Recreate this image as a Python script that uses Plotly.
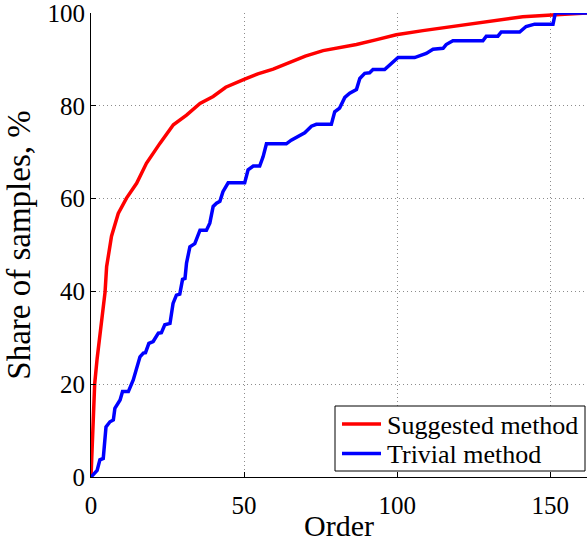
import plotly.graph_objects as go

# Suggested method (red) — cumulative share of samples, %
suggested_order = [0, 0.3, 0.77, 1.2, 2.0, 2.9, 4.0, 4.6, 5.1, 6.7, 8.9, 11.6, 14.9, 18.1, 22.5,
                   26.9, 31.2, 35.6, 39.9, 44.0, 50.0, 54.5, 59.5, 65.0, 70.0, 75.8, 81.0, 86.7, 93.0, 99.7,
                   108.4, 119.3, 130.2, 141.0, 151.9, 162.0]
suggested_share = [0, 5.0, 12.3, 20.0, 25.5, 30.2, 36.5, 39.9, 45.3, 51.9, 56.8, 60.1, 63.3, 67.6, 71.9,
                   75.9, 78.0, 80.5, 82.0, 84.0, 85.7, 86.9, 87.9, 89.4, 90.7, 91.9, 92.5, 93.2, 94.2, 95.3,
                   96.2, 97.2, 98.2, 99.2, 99.6, 100.0]

# Trivial method (blue)
trivial_order = [0, 1.3, 2.0, 2.9, 4.0, 4.9, 6.2, 7.3, 7.8, 9.5, 10.3, 12.2, 13.8, 16.0, 17.1, 17.8,
                 18.9, 20.3, 22.0, 23.0, 24.1, 25.8, 26.8, 27.9, 29.0, 29.9, 30.7, 31.2, 32.3, 33.9,
                 35.6, 37.7, 38.8, 39.9, 41.0, 42.1, 43.1, 44.8, 50.2, 51.3, 53.0, 55.1, 56.2, 57.3,
                 63.8, 65.4, 67.1, 69.8, 72.0, 73.6, 78.5, 79.6, 81.2, 82.9, 84.5, 86.7, 87.8, 89.4,
                 91.0, 92.1, 95.9, 97.6, 100.3, 105.7, 107.3, 109.5, 111.7, 115.0, 116.0, 118.2,
                 128.0, 129.1, 132.9, 134.0, 140.0, 142.1, 144.9, 150.9, 151.6, 152.0, 162.0]
trivial_share = [0, 1.1, 1.4, 3.7, 4.0, 10.8, 11.9, 12.3, 14.8, 16.6, 18.4, 18.4, 20.9, 25.9, 26.7, 26.8,
                 28.8, 29.2, 31.0, 31.1, 32.8, 33.1, 37.4, 39.2, 39.4, 42.6, 42.8, 46.1, 49.6, 50.3,
                 53.2, 53.2, 54.7, 58.3, 59.0, 59.4, 61.5, 63.4, 63.4, 66.2, 67.0, 67.0, 69.0, 71.8,
                 71.8, 72.6, 73.3, 74.2, 75.6, 76.0, 76.0, 78.7, 79.5, 81.8, 82.7, 83.5, 85.9, 87.0,
                 87.1, 87.8, 87.8, 88.8, 90.4, 90.4, 90.7, 91.3, 92.2, 92.4, 93.2, 94.0,
                 94.0, 95.0, 95.0, 95.9, 95.9, 97.1, 97.6, 97.6, 99.8, 100.0, 100.0]

series_names = ["Suggested method", "Trivial method"]
series_colors = ["#ff0000", "#0000ff"]

x_ticks = [0, 50, 100, 150]
y_ticks = [0, 20, 40, 60, 80, 100]

FONT = "Liberation Serif, Times New Roman, serif"

# plot-area geometry in pixels (used to place the hand-drawn legend box)
W, H = 587, 542
L, R, T, B = 91, 0, 13, 65
PW, PH = W - L - R, H - T - B


def px(xp):
    return (xp - L) / PW


def py(yp):
    return (H - B - yp) / PH


fig = go.Figure()
fig.add_trace(go.Scatter(x=suggested_order, y=suggested_share, mode="lines",
                         name=series_names[0], line=dict(color=series_colors[0], width=3.5)))
fig.add_trace(go.Scatter(x=trivial_order, y=trivial_share, mode="lines",
                         name=series_names[1], line=dict(color=series_colors[1], width=3.5)))

# legend (drawn as box + samples + labels for tight row spacing)
fig.add_shape(type="rect", xref="paper", yref="paper",
              x0=px(335), x1=px(585), y0=py(471), y1=py(406),
              line=dict(color="black", width=1), fillcolor="white", layer="above")
for i, (name, col) in enumerate(zip(series_names, series_colors)):
    yc = 424 + 29.5 * i
    fig.add_shape(type="line", xref="paper", yref="paper",
                  x0=px(342), x1=px(381), y0=py(yc), y1=py(yc),
                  line=dict(color=col, width=3.5), layer="above")
    fig.add_annotation(xref="paper", yref="paper", x=px(385), y=py(yc + 1),
                       xanchor="left", yanchor="middle", showarrow=False,
                       text=name, font=dict(family=FONT, size=26, color="black"))

grid_style = dict(showgrid=True, gridcolor="#8c8c8c", griddash="1px,3px", gridwidth=1)

fig.update_layout(
    width=W, height=H,
    margin=dict(l=L, r=R, t=T, b=B, autoexpand=False),
    paper_bgcolor="white", plot_bgcolor="white",
    font=dict(family=FONT, color="black", size=25),
    showlegend=False,
    xaxis=dict(range=[0, 162], tickvals=x_ticks, ticks="inside", ticklen=5,
               tickcolor="black", showline=True, linecolor="black", linewidth=1,
               zeroline=False, tickfont=dict(size=25), ticklabelstandoff=6,
               ticklabeloverflow="allow",
               title=dict(text="Order", font=dict(size=30), standoff=4), **grid_style),
    yaxis=dict(range=[0, 100], tickvals=y_ticks, ticks="inside", ticklen=5,
               tickcolor="black", showline=True, linecolor="black", linewidth=1,
               zeroline=False, tickfont=dict(size=25), ticklabelstandoff=0,
               ticklabeloverflow="allow",
               title=dict(text="Share of samples, %", font=dict(size=33), standoff=6), **grid_style),
)

fig.write_html("out.html", config={"displayModeBar": False},
               post_script="document.body.style.margin='0';")
